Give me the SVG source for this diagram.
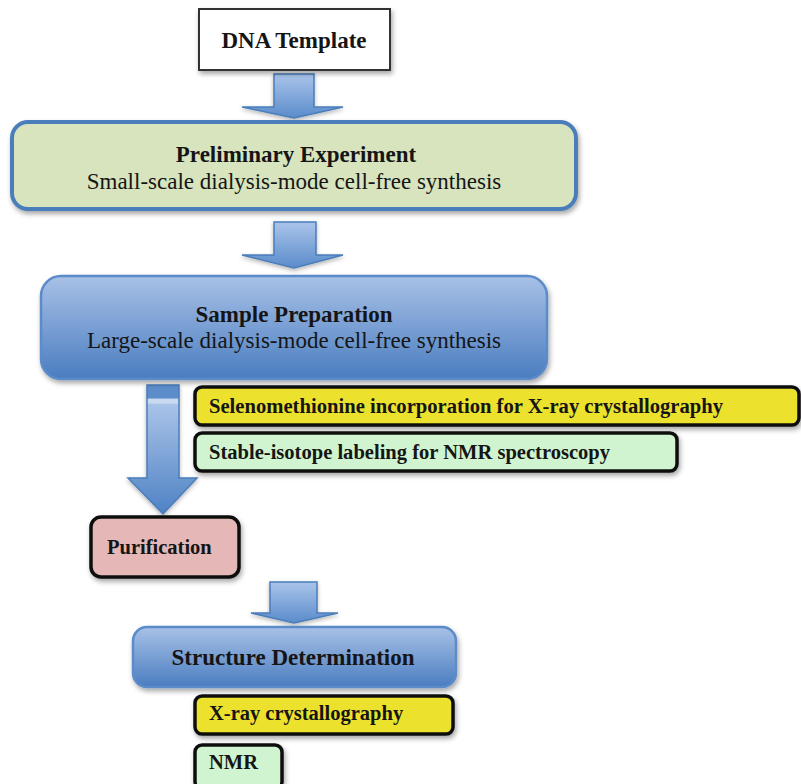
<svg xmlns="http://www.w3.org/2000/svg" width="801" height="784" viewBox="0 0 801 784">
<defs>
<linearGradient id="gBox" x1="0" y1="0" x2="0" y2="1">
<stop offset="0" stop-color="#a8c1e7"/>
<stop offset="1" stop-color="#4a7dc0"/>
</linearGradient>
<linearGradient id="gArrow" x1="0" y1="0" x2="0" y2="1">
<stop offset="0" stop-color="#aac4ea"/>
<stop offset="1" stop-color="#5a8ccb"/>
</linearGradient>
<linearGradient id="gShaft" x1="0" y1="0" x2="0" y2="1">
<stop offset="0" stop-color="#5b8cca"/>
<stop offset="0.1" stop-color="#5b8cca"/>
<stop offset="0.11" stop-color="#c9d9f0"/>
<stop offset="0.14" stop-color="#c9d9f0"/>
<stop offset="0.15" stop-color="#a9c3e8"/>
<stop offset="1" stop-color="#4f82c4"/>
</linearGradient>
<filter id="sh" x="-10%" y="-20%" width="125%" height="150%">
<feDropShadow dx="1.5" dy="3" stdDeviation="2.5" flood-color="#000" flood-opacity="0.35"/>
</filter>
<filter id="shA" x="-20%" y="-20%" width="140%" height="160%">
<feDropShadow dx="0" dy="2" stdDeviation="2" flood-color="#000" flood-opacity="0.3"/>
</filter>
</defs>
<style>
.t{font-family:"Liberation Serif","Times New Roman",serif;fill:#151515}
.b{font-weight:bold}
.big{font-size:23px}
.sm{font-size:20.5px}
.blk{stroke:#111;stroke-width:3.5}
.blue{stroke:#4a7ebb;stroke-width:4}
.arr{fill:url(#gArrow);stroke:#4a7ebb;stroke-width:1.5;filter:url(#shA)}
</style>
<rect width="801" height="784" fill="#fff"/>

<g id="connectors">
<path class="arr" d="M274,74 H314 V107 H343 L294,118 L242,107 H274 Z"/>
<path class="arr" d="M274,222 H316 V255 H343 L294,268 L242,255 H274 Z"/>
<path d="M147,385 H179 V478 H197 L163,514 L128,478 H147 Z" fill="url(#gShaft)" stroke="#4a7ebb" stroke-width="1.5" filter="url(#shA)"/>
<path class="arr" d="M270,582 H317 V613 H338 L294,623 L251,613 H270 Z"/>
</g>

<g id="dna">
<rect x="199" y="9" width="191" height="61" fill="#fff" stroke="#333" stroke-width="2" filter="url(#sh)"/>
<text class="t b big" x="294" y="48" text-anchor="middle">DNA Template</text>
</g>

<g id="preliminary">
<rect x="12" y="122" width="564" height="87" rx="16" fill="#d7e4bd" class="blue" filter="url(#sh)"/>
<text class="t b big" x="296" y="162" text-anchor="middle">Preliminary Experiment</text>
<text class="t big" x="294" y="189" text-anchor="middle">Small-scale dialysis-mode cell-free synthesis</text>
</g>

<g id="sample">
<rect x="41" y="276" width="506" height="103" rx="20" fill="url(#gBox)" stroke="#5b8bc9" stroke-width="2.5" filter="url(#sh)"/>
<text class="t b big" x="294" y="322" text-anchor="middle">Sample Preparation</text>
<text class="t big" x="294" y="348" text-anchor="middle">Large-scale dialysis-mode cell-free synthesis</text>
</g>

<g id="selenomethionine">
<rect x="195" y="387" width="604" height="38" rx="7" fill="#ece22f" class="blk" filter="url(#sh)"/>
<text class="t b sm" x="209" y="413" textLength="514" lengthAdjust="spacingAndGlyphs">Selenomethionine incorporation for X-ray crystallography</text>
</g>

<g id="stable-isotope">
<rect x="195" y="433" width="482" height="38" rx="7" fill="#d0f4cf" class="blk" filter="url(#sh)"/>
<text class="t b sm" x="209" y="459" textLength="401" lengthAdjust="spacingAndGlyphs">Stable-isotope labeling for NMR spectroscopy</text>
</g>

<g id="purification">
<rect x="91" y="517" width="148" height="60" rx="10" fill="#e5b8b7" class="blk" filter="url(#sh)"/>
<text class="t b sm" x="107" y="554">Purification</text>
</g>

<g id="structure">
<rect x="133" y="627" width="323" height="60" rx="14" fill="url(#gBox)" stroke="#5b8bc9" stroke-width="2.5" filter="url(#sh)"/>
<text class="t b big" x="293" y="665" text-anchor="middle">Structure Determination</text>
</g>

<g id="xray">
<rect x="195" y="696" width="258" height="38" rx="7" fill="#ece22f" class="blk" filter="url(#sh)"/>
<text class="t b sm" x="209" y="720">X-ray crystallography</text>
</g>

<g id="nmr">
<rect x="195" y="745" width="87" height="44" rx="7" fill="#d0f4cf" class="blk" filter="url(#sh)"/>
<text class="t b sm" x="209" y="769">NMR</text>
</g>
</svg>
